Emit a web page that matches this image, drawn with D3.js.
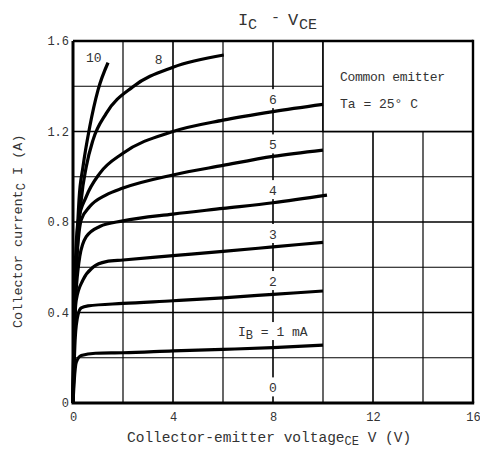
<!DOCTYPE html>
<html>
<head>
<meta charset="utf-8">
<script src="https://cdn.jsdelivr.net/npm/d3@7"></script>
<style>
body { margin: 0; background: #fff; }
text { font-family: "Liberation Mono", monospace; fill: #333; }
</style>
</head>
<body>
<div id="chart"></div>
<script>
// tick values
var xTicks = [0, 4, 8, 12, 16];
var yTicks = [0, 0.4, 0.8, 1.2, 1.6];
var xGrid = [2, 4, 6, 8, 10, 12, 14];
var yGrid = [0.2, 0.4, 0.6, 0.8, 1.0, 1.2, 1.4];

// Ic (A) vs Vce (V), one array per base current
var ib1 = [[0,0],[0.05,0.1],[0.13,0.18],[0.33,0.21],[0.9,0.22],[2,0.222],[4,0.23],[6,0.237],[8,0.245],[10,0.256]];
var ib2 = [[0,0],[0.09,0.29],[0.2,0.39],[0.33,0.42],[0.6,0.429],[2,0.44],[4,0.452],[6,0.465],[8,0.48],[10,0.495]];
var ib3 = [[0,0],[0.05,0.3],[0.13,0.455],[0.4,0.544],[0.8,0.6],[1.33,0.625],[2,0.632],[4,0.651],[6,0.67],[8,0.69],[10,0.71]];
var ib4 = [[0,0],[0.05,0.35],[0.27,0.647],[0.53,0.735],[1.07,0.78],[2,0.805],[4,0.835],[6,0.86],[8,0.885],[10.16,0.919]];
var ib5 = [[0,0],[0.05,0.4],[0.33,0.81],[0.67,0.868],[1.33,0.92],[2,0.95],[4,1.008],[6,1.05],[8,1.09],[10,1.118]];
var ib6 = [[0,0],[0.05,0.45],[0.2,0.8],[0.53,0.912],[1.07,1.015],[2,1.104],[4,1.2],[6,1.25],[8,1.288],[10,1.32]];
var ib8 = [[0,0],[0.1,0.5],[0.33,0.897],[0.53,1.044],[0.8,1.162],[1.33,1.28],[2.4,1.398],[4,1.484],[6.03,1.538]];
var ib10 = [[0,0],[0.1,0.5],[0.24,0.897],[0.4,1.044],[0.67,1.221],[1.0,1.383],[1.4,1.504]];

var curves = [ib1, ib2, ib3, ib4, ib5, ib6, ib8, ib10];

// curve labels, placed in data units
var curveLabels = [
    {text: "10", v: 0.83, i: 1.526, bg: false},
    {text: "8", v: 3.43, i: 1.52, bg: false},
    {text: "6", v: 8, i: 1.343, bg: true},
    {text: "5", v: 8, i: 1.143, bg: true},
    {text: "4", v: 8, i: 0.941, bg: true},
    {text: "3", v: 8, i: 0.747, bg: true},
    {text: "2", v: 8, i: 0.539, bg: true},
    {text: "0", v: 8, i: 0.069, bg: true}
];

var margin = {top: 41, right: 7, bottom: 57, left: 73};
var width = 480 - margin.left - margin.right,
    height = 460 - margin.top - margin.bottom;

var svg = d3.select("#chart").append("svg")
    .attr("width", 480)
    .attr("height", 460);

var g = svg.append("g")
    .attr("transform", "translate(" + margin.left + "," + margin.top + ")");

var x = d3.scaleLinear().domain([0, 16]).range([0, width]);
var y = d3.scaleLinear().domain([0, 1.6]).range([height, 0]);

// grid
g.selectAll(".vgrid")
    .data(xGrid)
    .enter()
    .append("line")
    .attr("class", "vgrid")
    .attr("x1", function(d){ return x(d) })
    .attr("x2", function(d){ return x(d) })
    .attr("y1", 0)
    .attr("y2", height)
    .attr("stroke", "#000")
    .attr("stroke-width", function(d){ return d % 4 == 0 ? 1.6 : 1.2 });

g.selectAll(".hgrid")
    .data(yGrid)
    .enter()
    .append("line")
    .attr("class", "hgrid")
    .attr("x1", 0)
    .attr("x2", width)
    .attr("y1", function(d){ return y(d) })
    .attr("y2", function(d){ return y(d) })
    .attr("stroke", "#000")
    .attr("stroke-width", function(d){ return Math.round(d * 10) % 4 == 0 ? 1.6 : 1.2 });

// legend box (covers grid)
g.append("rect")
    .attr("x", x(10))
    .attr("y", y(1.6))
    .attr("width", x(16) - x(10))
    .attr("height", y(1.2) - y(1.6))
    .attr("fill", "#fff")
    .attr("stroke", "#000")
    .attr("stroke-width", 1.6);

g.append("text")
    .attr("x", x(10) + 17)
    .attr("y", y(1.6) + 40)
    .attr("font-size", 13)
    .attr("textLength", 105)
    .text("Common emitter");

g.append("text")
    .attr("x", x(10) + 17)
    .attr("y", y(1.6) + 67)
    .attr("font-size", 13)
    .text("Ta = 25° C");

// curve label backgrounds
g.selectAll(".lblbg")
    .data(curveLabels.filter(function(d){ return d.bg }))
    .enter()
    .append("rect")
    .attr("x", function(d){ return x(d.v) - 12 })
    .attr("y", function(d){ return y(d.i) - 10 })
    .attr("width", 24)
    .attr("height", 19)
    .attr("fill", "#fff");

// Ib = 1 mA label background
g.append("rect")
    .attr("x", x(8) - 36)
    .attr("y", y(0.318) - 9)
    .attr("width", 66)
    .attr("height", 18)
    .attr("fill", "#fff");

// curves
var line = d3.line()
    .x(function(d){ return x(d[0]) })
    .y(function(d){ return y(d[1]) })
    .curve(d3.curveMonotoneX);

g.selectAll(".curve")
    .data(curves)
    .enter()
    .append("path")
    .attr("class", "curve")
    .attr("d", line)
    .attr("fill", "none")
    .attr("stroke", "#000")
    .attr("stroke-width", 3.2)
    .attr("stroke-linecap", "butt");

// curve labels
g.selectAll(".lbl")
    .data(curveLabels)
    .enter()
    .append("text")
    .attr("class", "lbl")
    .attr("x", function(d){ return x(d.v) })
    .attr("y", function(d){ return y(d.i) })
    .attr("dy", "0.36em")
    .attr("text-anchor", "middle")
    .attr("font-size", 13)
    .text(function(d){ return d.text });

var ibLabel = g.append("text")
    .attr("x", x(8) - 35)
    .attr("y", y(0.318))
    .attr("dy", "0.36em")
    .attr("font-size", 13);
ibLabel.append("tspan").text("I");
ibLabel.append("tspan").attr("dy", 3).attr("font-size", 12).text("B");
ibLabel.append("tspan").attr("dy", -3).text(" = 1 mA");

// frame
g.append("line").attr("x1", 0).attr("x2", 0).attr("y1", 0).attr("y2", height)
    .attr("stroke", "#000").attr("stroke-width", 3);
g.append("line").attr("x1", -1.5).attr("x2", width + 1.2).attr("y1", height).attr("y2", height)
    .attr("stroke", "#000").attr("stroke-width", 3);
g.append("line").attr("x1", 0).attr("x2", width).attr("y1", 0).attr("y2", 0)
    .attr("stroke", "#000").attr("stroke-width", 2.4);
g.append("line").attr("x1", width).attr("x2", width).attr("y1", -1.2).attr("y2", height)
    .attr("stroke", "#000").attr("stroke-width", 2.4);

// axes
var xAxis = g.append("g")
    .attr("transform", "translate(0," + height + ")")
    .call(d3.axisBottom(x).tickValues(xTicks).tickSize(0).tickPadding(9).tickFormat(d3.format("d")));
var yAxis = g.append("g")
    .call(d3.axisLeft(y).tickValues(yTicks).tickSize(0).tickPadding(4)
        .tickFormat(function(d){ return d == 0 ? "0" : d3.format(".1f")(d) }));

[xAxis, yAxis].forEach(function(a){
    a.select(".domain").remove();
    a.selectAll("text")
        .attr("font-family", "Liberation Mono, monospace")
        .attr("font-size", 12)
        .attr("fill", "#333");
});

// title
svg.append("text").attr("x", 238).attr("y", 25).attr("font-size", 17).text("I");
svg.append("text").attr("x", 248).attr("y", 29).attr("font-size", 15).text("C");
svg.append("text").attr("x", 271).attr("y", 22).attr("font-size", 15).text("-");
svg.append("text").attr("x", 288).attr("y", 25).attr("font-size", 17).text("V");
svg.append("text").attr("x", 299).attr("y", 29).attr("font-size", 15).text("CE");

// axis titles
var xTitle = svg.append("text")
    .attr("x", 127)
    .attr("y", 442)
    .attr("font-size", 14.5);
xTitle.append("tspan").text("Collector-emitter voltage");
xTitle.append("tspan").attr("dy", 3).attr("font-size", 12).text("CE");
xTitle.append("tspan").attr("dy", -3).text(" V  (V)");

var yTitle = svg.append("text")
    .attr("transform", "translate(22,328) rotate(-90)")
    .attr("font-size", 13.5);
yTitle.append("tspan").text("Collector current");
yTitle.append("tspan").attr("dy", 3).attr("font-size", 12).text("C");
yTitle.append("tspan").attr("dy", -3).text(" I (A)");
</script>
</body>
</html>
